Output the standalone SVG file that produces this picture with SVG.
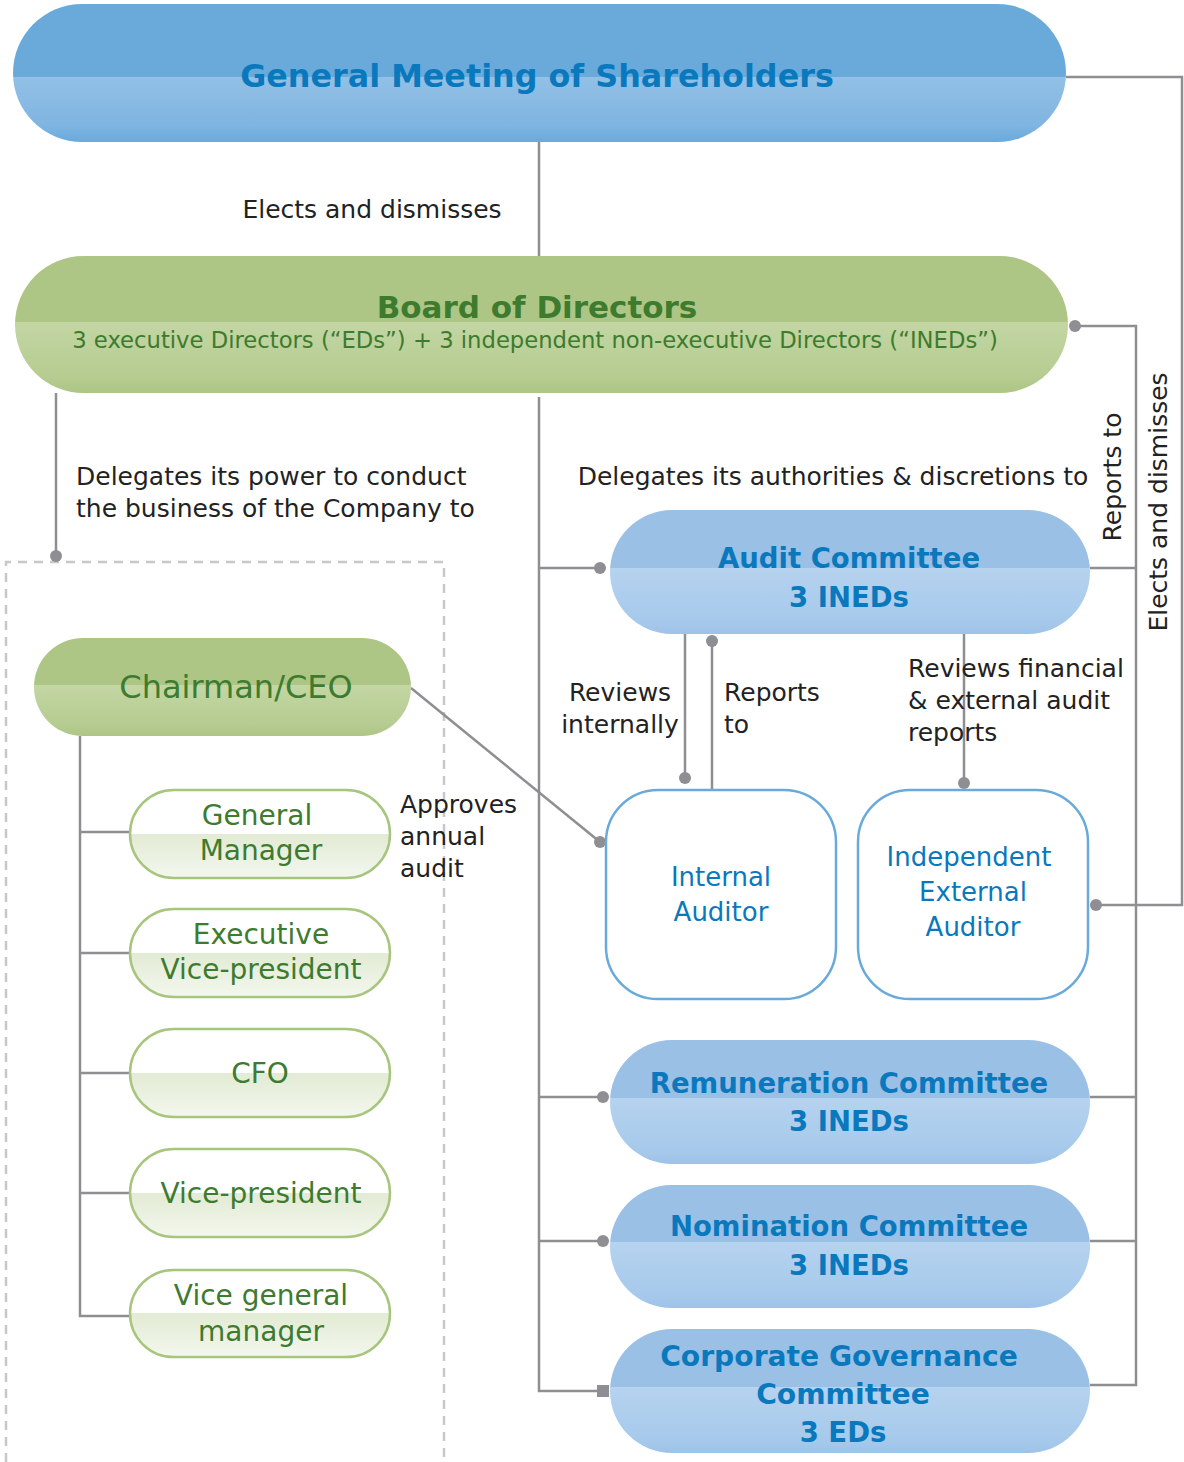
<svg xmlns="http://www.w3.org/2000/svg" width="1184" height="1462" viewBox="0 0 1184 1462">
  <defs>
    <linearGradient id="gBlueDark" x1="0" y1="0" x2="0" y2="1">
      <stop offset="0" stop-color="#6aaadb"/>
      <stop offset="0.53" stop-color="#6aaadb"/>
      <stop offset="0.53" stop-color="#92c0e6"/>
      <stop offset="0.88" stop-color="#7fb5e1"/>
      <stop offset="1" stop-color="#6aaadb"/>
    </linearGradient>
    <linearGradient id="gBlue" x1="0" y1="0" x2="0" y2="1">
      <stop offset="0" stop-color="#9ac0e6"/>
      <stop offset="0.465" stop-color="#9ac0e6"/>
      <stop offset="0.465" stop-color="#b6d3ef"/>
      <stop offset="0.9" stop-color="#a6c9eb"/>
      <stop offset="1" stop-color="#9ec3e8"/>
    </linearGradient>
    <linearGradient id="gGreen" x1="0" y1="0" x2="0" y2="1">
      <stop offset="0" stop-color="#adc585"/>
      <stop offset="0.48" stop-color="#adc585"/>
      <stop offset="0.48" stop-color="#c3d6a4"/>
      <stop offset="0.88" stop-color="#b6cc91"/>
      <stop offset="1" stop-color="#adc585"/>
    </linearGradient>
    <linearGradient id="gPale" x1="0" y1="0" x2="0" y2="1">
      <stop offset="0" stop-color="#ffffff"/>
      <stop offset="0.5" stop-color="#ffffff"/>
      <stop offset="0.5" stop-color="#e2ebd4"/>
      <stop offset="1" stop-color="#f3f7ee"/>
    </linearGradient>
    <style>
      .lbl { font-family: "DejaVu Sans", "Liberation Sans", sans-serif; font-size: 25px; fill: #222222; }
      .blueT { font-family: "DejaVu Sans", "Liberation Sans", sans-serif; font-weight: bold; fill: #0a78bd; text-anchor: middle; }
      .greenT { font-family: "DejaVu Sans", "Liberation Sans", sans-serif; fill: #3d7b2e; text-anchor: middle; }
      .audT { font-family: "DejaVu Sans", "Liberation Sans", sans-serif; font-size: 26px; fill: #0a78bd; text-anchor: middle; }
      .ln { fill: none; stroke: #8e8e93; stroke-width: 2.5; }
      .dot { fill: #8e8e93; }
      .sub { fill: url(#gPale); stroke: #a8c57e; stroke-width: 2.5; }
      .aud { fill: #ffffff; stroke: #6aaadb; stroke-width: 2.5; }
    </style>
  </defs>

  <rect width="1184" height="1462" fill="#ffffff"/>

  <!-- executive management area -->
  <path d="M6,1462 V562 H444 V1462" fill="none" stroke="#c8c8cc" stroke-width="2.5" stroke-dasharray="9,7"/>

  <!-- connectors -->
  <g id="connectors">
    <path class="ln" d="M539,142 V256"/>
    <path class="ln" d="M1066,77 H1182 V905 H1096"/>
    <path class="ln" d="M1075,326 H1136 V1385 H1090"/>
    <path class="ln" d="M1090,568 H1136"/>
    <path class="ln" d="M1090,1097 H1136"/>
    <path class="ln" d="M1090,1241 H1136"/>
    <path class="ln" d="M539,397 V1391 H603"/>
    <path class="ln" d="M539,568 H600"/>
    <path class="ln" d="M539,1097 H603"/>
    <path class="ln" d="M539,1241 H603"/>
    <path class="ln" d="M56,393 V556"/>
    <path class="ln" d="M80,736 V1316 H130"/>
    <path class="ln" d="M80,832 H130"/>
    <path class="ln" d="M80,953 H130"/>
    <path class="ln" d="M80,1073 H130"/>
    <path class="ln" d="M80,1193 H130"/>
    <path class="ln" d="M411,688 L600,842"/>
    <path class="ln" d="M685,634 V778"/>
    <path class="ln" d="M712,641 V790"/>
    <path class="ln" d="M964,634 V783"/>
    <circle class="dot" cx="1075" cy="326" r="6"/>
    <circle class="dot" cx="1096" cy="905" r="6"/>
    <circle class="dot" cx="600" cy="568" r="6"/>
    <circle class="dot" cx="603" cy="1097" r="6"/>
    <circle class="dot" cx="603" cy="1241" r="6"/>
    <rect class="dot" x="597" y="1385" width="12" height="12"/>
    <circle class="dot" cx="56" cy="556" r="6"/>
    <circle class="dot" cx="600" cy="842" r="6"/>
    <circle class="dot" cx="685" cy="778" r="6"/>
    <circle class="dot" cx="712" cy="641" r="6"/>
    <circle class="dot" cx="964" cy="783" r="6"/>
  </g>

  <!-- connector labels -->
  <g id="labels">
    <text class="lbl" x="372" y="218" text-anchor="middle" font-size="24.3">Elects and dismisses</text>
    <text class="lbl" x="76" y="485" font-size="25.7">Delegates its power to conduct</text>
    <text class="lbl" x="76" y="517" font-size="25.7">the business of the Company to</text>
    <text class="lbl" x="833" y="485" text-anchor="middle" font-size="24.8">Delegates its authorities &amp; discretions to</text>
    <text class="lbl" x="1121" y="477" text-anchor="middle" font-size="24.5" transform="rotate(-90 1121 477)">Reports to</text>
    <text class="lbl" x="1167" y="502" text-anchor="middle" font-size="24.3" transform="rotate(-90 1167 502)">Elects and dismisses</text>
    <text class="lbl" x="620" y="701" text-anchor="middle">Reviews</text>
    <text class="lbl" x="620" y="733" text-anchor="middle">internally</text>
    <text class="lbl" x="724" y="701">Reports</text>
    <text class="lbl" x="724" y="733">to</text>
    <text class="lbl" x="908" y="677" font-size="25.7">Reviews financial</text>
    <text class="lbl" x="908" y="709" font-size="25.7">&amp; external audit</text>
    <text class="lbl" x="908" y="741" font-size="25.7">reports</text>
    <text class="lbl" x="400" y="813" font-size="25.5">Approves</text>
    <text class="lbl" x="400" y="845" font-size="25.5">annual</text>
    <text class="lbl" x="400" y="877" font-size="25.5">audit</text>
  </g>

  <g id="general-meeting">
    <rect x="13" y="4" width="1053" height="138" rx="69" fill="url(#gBlueDark)"/>
    <text class="blueT" x="537" y="87" font-size="31.8">General Meeting of Shareholders</text>
  </g>

  <g id="board">
    <rect x="15" y="256" width="1053" height="137" rx="68.5" fill="url(#gGreen)"/>
    <text class="greenT" x="537" y="318" font-size="31" font-weight="bold">Board of Directors</text>
    <text class="greenT" x="535" y="348" font-size="22.7">3 executive Directors (“EDs”) + 3 independent non-executive Directors (“INEDs”)</text>
  </g>

  <g id="audit-committee">
    <rect x="610" y="510" width="480" height="124" rx="62" fill="url(#gBlue)"/>
    <text class="blueT" x="849" y="568" font-size="27.5">Audit Committee</text>
    <text class="blueT" x="849" y="607" font-size="27.5">3 INEDs</text>
  </g>

  <g id="chairman-ceo">
    <rect x="34" y="638" width="377" height="98" rx="49" fill="url(#gGreen)"/>
    <text class="greenT" x="236" y="698" font-size="32">Chairman/CEO</text>
  </g>

  <g id="internal-auditor">
    <rect class="aud" x="606" y="790" width="230" height="209" rx="52"/>
    <text class="audT" x="721" y="886">Internal</text>
    <text class="audT" x="721" y="921">Auditor</text>
  </g>

  <g id="external-auditor">
    <rect class="aud" x="858" y="790" width="230" height="209" rx="52"/>
    <text class="audT" x="969" y="866">Independent</text>
    <text class="audT" x="973" y="901">External</text>
    <text class="audT" x="973" y="936">Auditor</text>
  </g>

  <g id="general-manager">
    <rect class="sub" x="130" y="790" width="260" height="88" rx="44"/>
    <text class="greenT" x="257" y="825" font-size="28">General</text>
    <text class="greenT" x="261" y="860" font-size="28">Manager</text>
  </g>

  <g id="executive-vp">
    <rect class="sub" x="130" y="909" width="260" height="88" rx="44"/>
    <text class="greenT" x="261" y="944" font-size="28">Executive</text>
    <text class="greenT" x="261" y="979" font-size="28">Vice-president</text>
  </g>

  <g id="cfo">
    <rect class="sub" x="130" y="1029" width="260" height="88" rx="44"/>
    <text class="greenT" x="260" y="1083" font-size="28">CFO</text>
  </g>

  <g id="vice-president">
    <rect class="sub" x="130" y="1149" width="260" height="88" rx="44"/>
    <text class="greenT" x="261" y="1203" font-size="28">Vice-president</text>
  </g>

  <g id="vice-general-manager">
    <rect class="sub" x="130" y="1270" width="260" height="87" rx="43.5"/>
    <text class="greenT" x="261" y="1305" font-size="28">Vice general</text>
    <text class="greenT" x="261" y="1341" font-size="28">manager</text>
  </g>

  <g id="remuneration-committee">
    <rect x="610" y="1040" width="480" height="124" rx="62" fill="url(#gBlue)"/>
    <text class="blueT" x="849" y="1093" font-size="27.5">Remuneration Committee</text>
    <text class="blueT" x="849" y="1131" font-size="27.5">3 INEDs</text>
  </g>

  <g id="nomination-committee">
    <rect x="610" y="1185" width="480" height="123" rx="61.5" fill="url(#gBlue)"/>
    <text class="blueT" x="849" y="1236" font-size="27.5">Nomination Committee</text>
    <text class="blueT" x="849" y="1275" font-size="27.5">3 INEDs</text>
  </g>

  <g id="corporate-governance-committee">
    <rect x="610" y="1329" width="480" height="124" rx="62" fill="url(#gBlue)"/>
    <text class="blueT" x="839" y="1366" font-size="28.2">Corporate Governance</text>
    <text class="blueT" x="843" y="1404" font-size="28.2">Committee</text>
    <text class="blueT" x="843" y="1442" font-size="27.5">3 EDs</text>
  </g>
</svg>
